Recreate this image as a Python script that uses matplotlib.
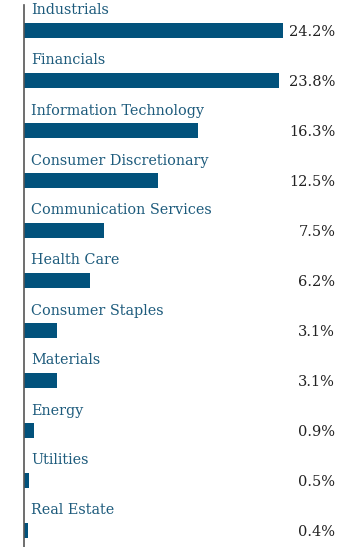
import matplotlib.pyplot as plt

sectors = ['Industrials', 'Financials', 'Information Technology',
           'Consumer Discretionary', 'Communication Services', 'Health Care',
           'Consumer Staples', 'Materials', 'Energy', 'Utilities', 'Real Estate']
weights = [24.2, 23.8, 16.3, 12.5, 7.5, 6.2, 3.1, 3.1, 0.9, 0.5, 0.4]

bar_color = '#02527c'
label_color = '#1d5b7c'

plt.rcParams['font.family'] = ['DejaVu Serif']

fig = plt.figure(figsize=(3.6, 5.47), dpi=100)
ax = fig.add_axes([24 / 360, 0, 336 / 360, 1])

pos = list(range(len(sectors)))
ax.barh(pos, weights, height=0.3, color=bar_color)

for i, (name, w) in enumerate(zip(sectors, weights)):
    ax.text(0.65, i - 0.39, name, color=label_color, fontsize=10.4,
            va='center', ha='left')
    ax.text(0.926, i + 0.04, f'{w:.1f}%', color='#222222', fontsize=10.5,
            va='center', ha='right', transform=ax.get_yaxis_transform())

ax.set_xlim(0, 336 / 10.7)
ax.set_ylim(-0.6 + 547 / 50, -0.6)
for s in ['top', 'right', 'bottom']:
    ax.spines[s].set_visible(False)
ax.spines['left'].set_color('#555555')
ax.spines['left'].set_linewidth(1.2)
ax.spines['left'].set_bounds(-0.5, 10.34)
ax.set_xticks([])
ax.set_yticks([])

fig.savefig('out.png', dpi=100)
